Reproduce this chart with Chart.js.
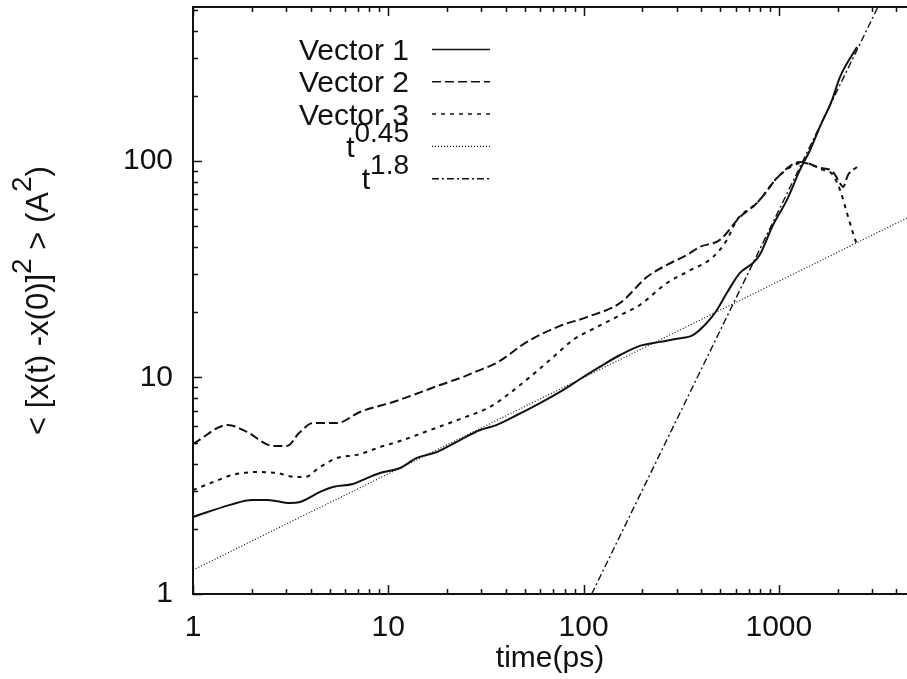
<!DOCTYPE html>
<html>
<head>
<meta charset="utf-8">
<title>Mean square displacement</title>
<script src="https://cdn.jsdelivr.net/npm/chart.js@4.4.1/dist/chart.umd.min.js"></script>
<style>
  html, body { margin: 0; padding: 0; background: #fff; }
  #wrap { width: 907px; height: 679px; }
</style>
</head>
<body>
<div id="wrap"><canvas id="msdChart" width="907" height="679"></canvas></div>
<script>
// Time (ps) and <[x(t)-x(0)]^2> (A^2) for each vector
const time1 = [1, 1.55, 2.0, 2.42, 3.14, 3.53, 4.47, 5.21, 6.59, 7.78, 9.07, 11.5, 14.0, 17.8, 23.3, 29.5, 36.0, 45.6, 59.8, 78.4, 96, 121, 154, 194, 246, 301, 363, 428, 482, 542, 632, 737, 800, 933, 1100, 1282, 1443, 1623, 1871, 2055, 2512];
const vec1  = [2.27, 2.58, 2.72, 2.72, 2.63, 2.66, 2.96, 3.12, 3.22, 3.43, 3.62, 3.82, 4.25, 4.53, 5.14, 5.72, 6.04, 6.71, 7.62, 8.75, 9.84, 11.2, 12.7, 14.0, 14.6, 15.1, 15.7, 17.9, 20.5, 24.6, 30.4, 33.8, 37.0, 50.6, 66.1, 90.9, 112, 144, 191, 244, 336];

const time2 = [1, 1.51, 1.88, 2.57, 3.03, 3.5, 4.12, 5.46, 7.16, 10.6, 13.4, 18.4, 24.1, 28.5, 36.0, 51.3, 75.7, 104, 154, 211, 267, 338, 394, 499, 632, 773, 1013, 1282, 1393, 1623, 1871, 2055, 2130, 2259, 2512];
const vec2  = [4.93, 6.04, 5.62, 4.83, 4.83, 5.55, 6.16, 6.16, 6.93, 7.71, 8.30, 9.23, 10.05, 10.7, 11.7, 14.6, 17.3, 19.0, 22.1, 29.1, 33.1, 36.8, 40.1, 43.2, 55.1, 64.0, 86.2, 98.9, 97.9, 92.9, 89.9, 79.1, 75.8, 86.2, 93.8];

const time3 = [1, 1.27, 1.60, 2.13, 2.69, 3.33, 3.75, 4.47, 5.46, 6.91, 9.07, 11.5, 16.4, 24.1, 33.2, 42.0, 53.2, 69.7, 88.3, 117, 154, 194, 267, 338, 460, 542, 610, 773, 1013, 1328, 1683, 1892, 2055, 2232, 2395, 2512];
const vec3  = [3.02, 3.29, 3.55, 3.66, 3.62, 3.47, 3.47, 3.86, 4.25, 4.39, 4.77, 5.09, 5.72, 6.50, 7.31, 8.48, 10.05, 12.4, 14.9, 17.1, 19.4, 21.6, 27.3, 30.7, 36.0, 43.2, 53.4, 64.0, 86.2, 98.0, 90.9, 86.2, 73.5, 57.5, 46.5, 40.9];

// power-law guide lines (end points)
const fitSlowT = [1, 4530];
const fitSlowV = [1.29, 54.5];
const fitFastT = [110, 3216];
const fitFastV = [1, 514];

const seriesNames = ['Vector 1', 'Vector 2', 'Vector 3', 't^{0.45}', 't^{1.8}'];
const xTickLabels = ['1', '10', '100', '1000'];
const yTickLabels = ['1', '10', '100'];
const xRange = [1, 4530];
const yRange = [1, 514];
const yTitle = '< [x(t) -x(0)]^{2} > (A^{2})';
const xTitle = 'time(ps)';

const INK = '#111';
const FONT = "'Liberation Sans', Arial, Helvetica, sans-serif";
Chart.defaults.font.family = FONT;
Chart.defaults.color = INK;

function toPoints(xs, ys) {
  return xs.map((x, i) => ({ x, y: ys[i] }));
}

// 1..9 x 10^n tick positions inside [min, max]
function logTicks(min, max) {
  const out = [];
  for (let d = Math.floor(Math.log10(min)); Math.pow(10, d) <= max; d++) {
    for (let m = 1; m <= 9; m++) {
      const v = m * Math.pow(10, d);
      if (v >= min && v <= max) out.push(v);
    }
  }
  return out;
}

function labelFor(list, v) {
  return list.includes(String(v)) ? String(v) : '';
}

// 'A^{2}' -> pieces with superscript flags
function richParts(str) {
  return str.split(/(\^\{[^}]*\})/).filter(s => s).map(s =>
    s.startsWith('^{') ? { text: s.slice(2, -1), sup: true } : { text: s, sup: false });
}

function drawRich(ctx, str, x, y, align, size, supSize, rise) {
  const parts = richParts(str);
  const widths = parts.map(p => {
    ctx.font = `${p.sup ? supSize : size}px ${FONT}`;
    return ctx.measureText(p.text).width;
  });
  const total = widths.reduce((a, b) => a + b, 0);
  let cx = align === 'right' ? x - total : align === 'center' ? x - total / 2 : x;
  ctx.textAlign = 'left';
  ctx.textBaseline = 'alphabetic';
  parts.forEach((p, i) => {
    ctx.font = `${p.sup ? supSize : size}px ${FONT}`;
    ctx.fillText(p.text, cx, p.sup ? y - rise : y);
    cx += widths[i];
  });
}

// box with inward tick marks on bottom, top and left
const frame = {
  id: 'frame',
  afterDatasetsDraw(chart) {
    const { ctx, chartArea: a, scales: { x, y } } = chart;
    ctx.save();
    ctx.strokeStyle = INK;
    ctx.lineWidth = 2;
    ctx.beginPath();
    ctx.moveTo(a.right, a.top);
    ctx.lineTo(a.left, a.top);
    ctx.lineTo(a.left, a.bottom);
    ctx.lineTo(a.right, a.bottom);
    ctx.stroke();

    ctx.lineWidth = 1.5;
    ctx.beginPath();
    x.ticks.forEach(t => {
      const px = Math.round(x.getPixelForValue(t.value)) + 0.5;
      const len = xTickLabels.includes(String(t.value)) ? 9 : 5;
      ctx.moveTo(px, a.bottom); ctx.lineTo(px, a.bottom - len);
      ctx.moveTo(px, a.top); ctx.lineTo(px, a.top + len);
    });
    y.ticks.forEach(t => {
      const py = Math.round(y.getPixelForValue(t.value)) + 0.5;
      const len = yTickLabels.includes(String(t.value)) ? 9 : 5;
      ctx.moveTo(a.left, py); ctx.lineTo(a.left + len, py);
    });
    ctx.stroke();
    ctx.restore();
  }
};

// gnuplot-style key: right-aligned text followed by a line sample
const keyBox = {
  id: 'keyBox',
  afterDraw(chart) {
    const ctx = chart.ctx;
    ctx.save();
    ctx.fillStyle = INK;
    chart.data.datasets.forEach((ds, i) => {
      const ly = 49 + i * 32.3;
      drawRich(ctx, ds.label, 409, ly + 11, 'right', 30, 28, 15);
      ctx.strokeStyle = ds.borderColor;
      ctx.lineWidth = Math.min(ds.borderWidth, 1.5);
      ctx.setLineDash(ds.borderDash || []);
      ctx.beginPath();
      ctx.moveTo(432, ly + 0.5);
      ctx.lineTo(490, ly + 0.5);
      ctx.stroke();
    });
    ctx.restore();
  }
};

// rotated y title with superscripts
const yLabel = {
  id: 'yLabel',
  afterDraw(chart) {
    const { ctx, chartArea: a } = chart;
    ctx.save();
    ctx.fillStyle = INK;
    ctx.translate(48, (a.top + a.bottom) / 2);
    ctx.rotate(-Math.PI / 2);
    drawRich(ctx, yTitle, 0, 0, 'center', 31, 28, 17);
    ctx.restore();
  }
};

const styles = [
  { dash: [], width: 2 },
  { dash: [9, 4], width: 2 },
  { dash: [4, 5], width: 2 },
  { dash: [1, 2], width: 1.2 },
  { dash: [7, 3, 2, 3], width: 1.4 }
];
const series = [
  toPoints(time1, vec1),
  toPoints(time2, vec2),
  toPoints(time3, vec3),
  toPoints(fitSlowT, fitSlowV),
  toPoints(fitFastT, fitFastV)
];

const ctx = document.getElementById('msdChart').getContext('2d');
const chart = new Chart(ctx, {
  type: 'line',
  data: {
    datasets: series.map((pts, i) => ({
      label: seriesNames[i],
      data: pts,
      borderColor: INK,
      borderWidth: styles[i].width,
      borderDash: styles[i].dash,
      pointRadius: 0,
      cubicInterpolationMode: i < 3 ? 'monotone' : 'default',
      tension: 0,
      fill: false
    }))
  },
  options: {
    responsive: false,
    animation: false,
    devicePixelRatio: 1,
    layout: { padding: { top: 7, right: 0, bottom: 0, left: 0 } },
    plugins: { legend: { display: false }, tooltip: { enabled: false } },
    scales: {
      x: {
        type: 'logarithmic',
        min: xRange[0],
        max: xRange[1],
        afterBuildTicks: s => { s.ticks = logTicks(xRange[0], xRange[1]).map(v => ({ value: v })); },
        afterFit: s => { s.height = 85; s.paddingLeft = 0; s.paddingRight = 0; },
        grid: { display: false, drawTicks: false },
        border: { display: false },
        ticks: {
          autoSkip: false,
          maxRotation: 0,
          padding: 16,
          color: INK,
          font: { size: 30 },
          callback: v => labelFor(xTickLabels, v)
        },
        title: { display: true, text: xTitle, color: INK, font: { size: 30 }, padding: { top: 0, bottom: 2 } }
      },
      y: {
        type: 'logarithmic',
        min: yRange[0],
        max: yRange[1],
        afterBuildTicks: s => { s.ticks = logTicks(yRange[0], yRange[1]).map(v => ({ value: v })); },
        afterFit: s => { s.width = 193; s.paddingTop = 0; s.paddingBottom = 0; },
        grid: { display: false, drawTicks: false },
        border: { display: false },
        ticks: {
          autoSkip: false,
          padding: 20,
          color: INK,
          font: { size: 30 },
          callback: v => labelFor(yTickLabels, v)
        }
      }
    }
  },
  plugins: [frame, keyBox, yLabel]
});
</script>
</body>
</html>
